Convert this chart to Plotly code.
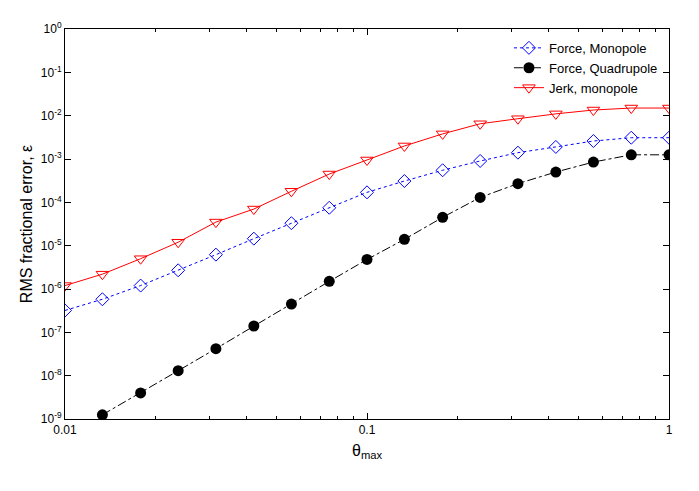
import plotly.graph_objects as go

theta = [0.01, 0.0133, 0.0178, 0.0237, 0.0316, 0.0422, 0.0562, 0.075, 0.1,
         0.133, 0.178, 0.237, 0.316, 0.422, 0.562, 0.75, 1.0]
force_mono = [3.2e-7, 5.8e-7, 1.2e-6, 2.7e-6, 6.2e-6, 1.45e-5, 3.3e-5, 7.5e-5, 1.7e-4,
              3.1e-4, 5.5e-4, 9e-4, 1.4e-3, 1.9e-3, 2.6e-3, 3.1e-3, 3.1e-3]
jerk_mono = [1.2e-6, 2.2e-6, 5e-6, 1.2e-5, 3.5e-5, 7e-5, 1.8e-4, 4.5e-4, 9.5e-4,
             2e-3, 3.8e-3, 6.5e-3, 8.5e-3, 1.1e-2, 1.35e-2, 1.5e-2, 1.5e-2]
force_quad = [1.25e-9, 4e-9, 1.3e-8, 4.2e-8, 1.4e-7, 4.5e-7, 1.5e-6, 4.8e-6, 1.4e-5,
              4.5e-5, 1.3e-4, 2.7e-4, 5e-4, 8.5e-4, 1.25e-3, 1.25e-3]

y_ticks = [10.0 ** e for e in range(-9, 1)]
y_labels = [f"10<sup>{e}</sup>" for e in range(-9, 1)]
x_minor = [m * 10.0 ** e for e in (-2, -1) for m in range(2, 10)]

fig = go.Figure()
fig.add_scatter(x=theta, y=force_mono, name="Force, Monopole", mode="lines+markers",
                line=dict(color="#0000ff", width=1, dash="dot"),
                marker=dict(symbol="diamond-open", size=10, color="#0000ff"))
fig.add_scatter(x=theta[1:], y=force_quad, name="Force, Quadrupole", mode="lines+markers",
                line=dict(color="black", width=1, dash="dashdot"),
                marker=dict(symbol="circle", size=11, color="black"))
fig.add_scatter(x=theta, y=jerk_mono, name="Jerk, monopole", mode="lines+markers",
                line=dict(color="#ff0000", width=1),
                marker=dict(symbol="triangle-down-open", size=11, color="#ff0000"))

axis = dict(type="log", showgrid=False, zeroline=False, showline=True, mirror="ticks",
            linecolor="black", linewidth=1, ticks="inside", ticklen=6,
            tickcolor="black", tickfont=dict(size=12))
fig.update_xaxes(**axis, range=[-2, 0], tickvals=[0.01, 0.1, 1],
                 ticktext=["0.01", "0.1", "1"],
                 minor=dict(ticks="inside", ticklen=3, tickcolor="black", tickvals=x_minor),
                 title=dict(text="θ<sub>max</sub>", standoff=8))
fig.update_yaxes(**axis, range=[-9, 0], tickvals=y_ticks, ticktext=y_labels,
                 title=dict(text="RMS fractional error, ε", standoff=4))
fig.update_layout(
    width=699, height=491, plot_bgcolor="white", paper_bgcolor="white",
    font=dict(family="Liberation Sans, Arial", size=13, color="black"),
    margin=dict(l=57, r=38, t=12, b=80),
    legend=dict(x=0.99, y=0.99, xanchor="right", yanchor="top",
                bgcolor="rgba(0,0,0,0)", font=dict(size=13)),
)
fig.write_html("out.html")
